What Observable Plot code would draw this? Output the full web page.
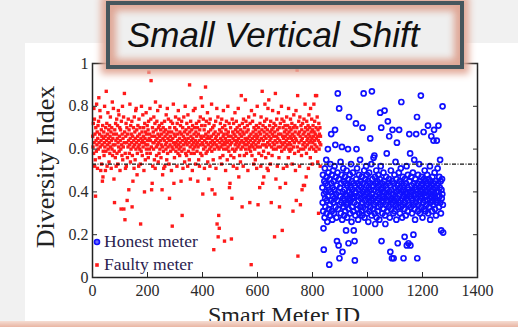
<!DOCTYPE html>
<html><head><meta charset="utf-8">
<script src="https://cdn.jsdelivr.net/npm/d3@7"></script>
<script src="https://cdn.jsdelivr.net/npm/@observablehq/plot@0.6"></script>
<style>
html,body{margin:0;padding:0;}
body{width:518px;height:327px;background:#f1f1f1;position:relative;overflow:hidden;font-family:"Liberation Serif","Times New Roman",serif;}
#panel{position:absolute;left:25px;top:43px;width:493px;height:284px;background:#fff;}
#chart{position:absolute;left:0;top:0;}
#title{position:absolute;left:106px;top:1px;width:350px;height:60px;border:4px solid #46565d;background:#efefef;box-shadow:0 0 7px 5px #e3aa99, inset 0 0 7px 6px #dfa796;}
#titletext{position:absolute;left:127px;top:17px;font-family:"Liberation Sans",Arial,sans-serif;font-style:italic;font-size:35px;line-height:35px;color:#111;white-space:nowrap;}
#ylabel{position:absolute;left:46px;top:167px;transform:translate(-50%,-50%) rotate(-90deg);font-size:26px;color:#222;white-space:nowrap;}
#xlabel{position:absolute;left:284px;top:303px;transform:translateX(-50%);font-size:24px;line-height:24px;color:#222;white-space:nowrap;}
#legend{position:absolute;left:93px;top:230px;font-size:17.5px;color:#2b1d4f;line-height:23px;}
#legend div{display:flex;align-items:center;white-space:nowrap;}
#legend svg{margin-right:3px;}
#bottombar{position:absolute;left:0;top:321px;width:518px;height:6px;background:linear-gradient(#f5ddd3,#e9b5a3);}
</style>
</head><body>
<div id="panel"></div>
<div id="chart"></div>
<div id="ylabel">Diversity Index</div>
<div id="xlabel">Smart Meter ID</div>
<div id="legend">
  <div><svg width="8" height="8"><circle cx="4" cy="4" r="2.5" fill="#6a6aff" stroke="#1010ff" stroke-width="1.6"/></svg>Honest meter</div>
  <div><svg width="8" height="8"><rect x="2.2" y="2.2" width="3.6" height="3.6" fill="#ff1a1a"/></svg>Faulty meter</div>
</div>
<div id="title"></div>
<div id="titletext">Small Vertical Shift</div>
<div id="bottombar"></div>
<script>
const xTicks = [0,200,400,600,800,1000,1200,1400];
const yTicks = [0,0.2,0.4,0.6,0.8,1];
const threshold = 0.53;
const faultyStartId = 1;
const honestStartId = 836;

const faultyIndex = [
0.66,0.61,0.72,0.58,0.79,0.63,0.74,0.52,0.67,0.55,0.38,0.70,0.64,0.59,0.81,0.62,0.68,0.51,0.65,0.71,
0.60,0.73,0.84,0.63,0.56,0.67,0.78,0.61,0.75,0.50,0.64,0.69,0.53,0.66,0.62,0.45,0.71,0.47,0.59,0.65,
0.68,0.57,0.63,0.80,0.61,0.66,0.50,0.70,0.59,0.87,0.64,0.72,0.52,0.67,0.62,0.77,0.60,0.65,0.69,0.54,
0.63,0.71,0.58,0.66,0.75,0.61,0.68,0.51,0.64,0.70,0.60,0.82,0.57,0.65,0.62,0.79,0.67,0.46,0.59,0.35,
0.69,0.62,0.56,0.72,0.64,0.52,0.67,0.74,0.58,0.65,0.71,0.53,0.63,0.78,0.61,0.76,0.59,0.66,0.70,0.50,
0.64,0.69,0.60,0.32,0.73,0.62,0.57,0.67,0.80,0.55,0.65,0.61,0.75,0.32,0.63,0.86,0.68,0.27,0.58,0.51,
0.66,0.72,0.52,0.63,0.70,0.36,0.56,0.67,0.61,0.74,0.64,0.41,0.69,0.58,0.62,0.81,0.65,0.54,0.71,0.60,
0.67,0.63,0.73,0.33,0.57,0.66,0.45,0.61,0.70,0.64,0.51,0.75,0.62,0.68,0.55,0.65,0.78,0.60,0.79,0.63,
0.69,0.48,0.58,0.66,0.71,0.61,0.64,0.52,0.74,0.62,0.67,0.60,0.70,0.53,0.25,0.65,0.59,0.80,0.63,0.68,
0.57,0.64,0.76,0.61,0.66,0.70,0.50,0.63,0.40,0.72,0.65,0.55,0.68,0.62,0.77,0.60,0.67,0.58,0.71,0.64,
0.62,0.69,0.56,0.73,0.96,0.65,0.60,0.67,0.79,0.58,0.64,0.74,0.92,0.61,0.41,0.66,0.44,0.70,0.52,0.63,
0.68,0.60,0.75,0.63,0.55,0.66,0.72,0.51,0.82,0.64,0.69,0.61,0.57,0.73,0.65,0.62,0.78,0.67,0.54,0.70,
0.63,0.58,0.71,0.66,0.60,0.80,0.64,0.69,0.56,0.62,0.67,0.72,0.41,0.61,0.48,0.65,0.70,0.59,0.51,0.68,
0.64,0.73,0.52,0.66,0.62,0.69,0.60,0.76,0.63,0.55,0.67,0.79,0.58,0.65,0.61,0.74,0.68,0.53,0.64,0.37,
0.70,0.62,0.66,0.59,0.73,0.64,0.50,0.68,0.61,0.24,0.72,0.65,0.60,0.81,0.63,0.44,0.67,0.56,0.70,0.62,
0.66,0.75,0.59,0.63,0.69,0.61,0.52,0.72,0.64,0.67,0.58,0.78,0.62,0.74,0.60,0.65,0.57,0.68,0.63,0.71,
0.61,0.45,0.67,0.73,0.59,0.29,0.64,0.70,0.51,0.66,0.62,0.75,0.60,0.68,0.54,0.65,0.80,0.63,0.58,0.69,
0.64,0.57,0.72,0.62,0.67,0.52,0.76,0.65,0.59,0.70,0.63,0.55,0.90,0.68,0.61,0.46,0.73,0.66,0.58,0.64,
0.69,0.62,0.50,0.71,0.65,0.60,0.78,0.63,0.67,0.58,0.70,0.61,0.79,0.64,0.53,0.68,0.62,0.72,0.66,0.59,
0.63,0.70,0.45,0.61,0.67,0.55,0.73,0.64,0.52,0.69,0.62,0.75,0.58,0.66,0.84,0.65,0.71,0.57,0.63,0.80,
0.39,0.62,0.74,0.60,0.66,0.69,0.51,0.64,0.71,0.61,0.89,0.67,0.58,0.73,0.63,0.65,0.59,0.77,0.54,0.66,
0.62,0.68,0.46,0.72,0.60,0.65,0.52,0.74,0.63,0.69,0.61,0.66,0.81,0.59,0.41,0.64,0.70,0.62,0.55,0.67,
0.13,0.71,0.63,0.60,0.39,0.68,0.65,0.73,0.51,0.62,0.66,0.79,0.25,0.64,0.61,0.75,0.19,0.67,0.29,0.60,
0.23,0.69,0.63,0.56,0.72,0.65,0.61,0.68,0.53,0.74,0.64,0.62,0.70,0.57,0.66,0.78,0.60,0.67,0.63,0.17,
0.71,0.62,0.65,0.50,0.69,0.64,0.73,0.60,0.67,0.55,0.63,0.80,0.61,0.68,0.66,0.59,0.72,0.42,0.64,0.44,
0.62,0.70,0.57,0.66,0.18,0.63,0.37,0.74,0.60,0.68,0.65,0.52,0.72,0.56,0.67,0.64,0.59,0.77,0.62,0.69,
0.66,0.60,0.73,0.63,0.51,0.70,0.64,0.68,0.61,0.79,0.65,0.47,0.62,0.71,0.57,0.67,0.63,0.54,0.69,0.60,
0.85,0.66,0.64,0.33,0.72,0.61,0.68,0.52,0.74,0.63,0.67,0.57,0.70,0.62,0.65,0.83,0.60,0.73,0.64,0.58,
0.68,0.62,0.71,0.65,0.50,0.69,0.63,0.75,0.60,0.66,0.61,0.35,0.72,0.64,0.59,0.67,0.06,0.78,0.62,0.57,
0.65,0.73,0.61,0.68,0.63,0.53,0.70,0.66,0.76,0.60,0.64,0.55,0.69,0.62,0.67,0.71,0.51,0.65,0.80,0.61,
0.66,0.34,0.63,0.70,0.58,0.68,0.64,0.42,0.72,0.61,0.67,0.52,0.75,0.65,0.57,0.69,0.87,0.62,0.44,0.71,
0.64,0.59,0.47,0.68,0.66,0.73,0.81,0.62,0.70,0.56,0.65,0.61,0.74,0.67,0.51,0.69,0.63,0.79,0.50,0.58,
0.83,0.66,0.62,0.71,0.64,0.68,0.53,0.73,0.65,0.35,0.61,0.69,0.57,0.67,0.78,0.63,0.70,0.60,0.66,0.72,
0.62,0.19,0.68,0.64,0.86,0.71,0.46,0.60,0.66,0.74,0.63,0.52,0.69,0.65,0.61,0.77,0.67,0.56,0.70,0.33,
0.64,0.42,0.72,0.61,0.67,0.63,0.80,0.59,0.74,0.22,0.66,0.62,0.70,0.51,0.65,0.73,0.60,0.68,0.63,0.71,
0.66,0.44,0.61,0.69,0.64,0.75,0.52,0.67,0.62,0.71,0.65,0.56,0.79,0.60,0.68,0.63,0.70,0.59,0.66,0.74,
0.62,0.69,0.65,0.60,0.72,0.53,0.67,0.64,0.31,0.70,0.61,0.76,0.66,0.63,0.58,0.71,0.68,0.50,0.65,0.78,
0.36,0.64,0.70,0.97,0.61,0.85,0.10,0.67,0.59,0.73,0.63,0.68,0.52,0.75,0.66,0.34,0.60,0.71,0.64,0.57,
0.69,0.41,0.65,0.72,0.62,0.67,0.43,0.60,0.74,0.63,0.43,0.68,0.81,0.61,0.70,0.66,0.47,0.58,0.73,0.64,
0.62,0.69,0.65,0.71,0.51,0.67,0.76,0.63,0.60,0.70,0.66,0.56,0.79,0.64,0.68,0.61,0.74,0.65,0.53,0.69,
0.63,0.71,0.66,0.60,0.81,0.68,0.64,0.73,0.62,0.67,0.85,0.59,0.70,0.65,0.85,0.61,0.75,0.66,0.54,0.69,
0.64,0.30,0.72,0.60,0.67,0.63,0.70,0.52,0.66,0.62
];

const honestIndex = [
0.42,0.35,0.48,0.31,0.23,0.13,0.39,0.45,0.28,0.51,0.37,0.33,0.44,0.40,0.55,0.30,0.47,0.36,0.26,0.43,
0.60,0.38,0.49,0.32,0.41,0.06,0.46,0.34,0.29,0.53,0.40,0.36,0.67,0.44,0.31,0.48,0.27,0.42,0.38,0.50,
0.35,0.45,0.30,0.41,0.52,0.37,0.69,0.62,0.33,0.47,0.39,0.28,0.43,0.17,0.36,0.49,0.86,0.32,0.40,0.15,
0.46,0.79,0.09,0.34,0.42,0.38,0.54,0.30,0.44,0.35,0.48,0.61,0.27,0.12,0.40,0.37,0.51,0.33,0.45,0.29,
0.41,0.36,0.47,0.31,0.39,0.44,0.22,0.34,0.50,0.38,0.28,0.43,0.35,0.60,0.46,0.16,0.32,0.75,0.40,0.37,
0.48,0.30,0.42,0.36,0.53,0.39,0.26,0.45,0.33,0.41,0.37,0.49,0.31,0.44,0.22,0.38,0.35,0.17,0.08,0.43,
0.29,0.40,0.72,0.46,0.60,0.34,0.51,0.38,0.32,0.44,0.27,0.41,0.36,0.48,0.30,0.43,0.39,0.55,0.33,0.45,
0.37,0.42,0.31,0.47,0.29,0.35,0.70,0.40,0.44,0.33,0.86,0.38,0.50,0.28,0.41,0.36,0.46,0.32,0.39,0.52,
0.43,0.34,0.48,0.30,0.40,0.37,0.45,0.26,0.42,0.35,0.49,0.31,0.38,0.44,0.65,0.33,0.41,0.36,0.53,0.29,
0.87,0.39,0.46,0.32,0.43,0.37,0.56,0.34,0.41,0.57,0.30,0.47,0.25,0.38,0.44,0.35,0.50,0.28,0.42,0.36,
0.45,0.31,0.40,0.48,0.33,0.37,0.43,0.27,0.39,0.46,0.77,0.34,0.52,0.41,0.70,0.17,0.36,0.44,0.30,0.38,
0.42,0.35,0.49,0.32,0.40,0.45,0.78,0.37,0.29,0.25,0.43,0.34,0.47,0.39,0.58,0.31,0.41,0.36,0.73,0.44,
0.38,0.33,0.46,0.66,0.40,0.28,0.43,0.12,0.36,0.50,0.32,0.41,0.37,0.09,0.45,0.69,0.35,0.39,0.30,0.09,
0.44,0.36,0.48,0.31,0.42,0.38,0.54,0.34,0.40,0.27,0.46,0.63,0.37,0.43,0.16,0.33,0.41,0.35,0.49,0.69,
0.39,0.45,0.30,0.42,0.36,0.51,0.33,0.82,0.40,0.44,0.28,0.37,0.47,0.34,0.41,0.09,0.38,0.43,0.32,0.19,
0.46,0.35,0.40,0.29,0.44,0.37,0.52,0.15,0.39,0.42,0.31,0.48,0.36,0.16,0.41,0.34,0.67,0.45,0.38,0.58,
0.15,0.40,0.33,0.47,0.37,0.43,0.30,0.41,0.36,0.49,0.34,0.20,0.44,0.38,0.55,0.32,0.42,0.27,0.46,0.39,
0.35,0.67,0.41,0.37,0.75,0.09,0.44,0.31,0.48,0.39,0.34,0.42,0.53,0.36,0.45,0.30,0.40,0.38,0.85,0.43,
0.33,0.47,0.37,0.41,0.28,0.44,0.39,0.35,0.68,0.46,0.32,0.42,0.50,0.36,0.40,0.31,0.45,0.38,0.43,0.34,
0.41,0.48,0.36,0.44,0.71,0.30,0.39,0.46,0.33,0.42,0.37,0.52,0.27,0.45,0.35,0.40,0.66,0.38,0.43,0.31,
0.47,0.36,0.41,0.34,0.64,0.44,0.69,0.39,0.49,0.32,0.42,0.37,0.45,0.29,0.40,0.35,0.64,0.43,0.38,0.51,
0.36,0.44,0.71,0.40,0.33,0.47,0.38,0.42,0.55,0.35,0.45,0.30,0.22,0.41,0.37,0.46,0.39,0.80,0.34,0.21
];

const faulty = faultyIndex.map((v, i) => ({id: faultyStartId + i, v}));
const honest = honestIndex.map((v, i) => ({id: honestStartId + i, v}));

const chart = Plot.plot({
  width: 518, height: 327,
  marginTop: 63, marginRight: 41, marginBottom: 50, marginLeft: 92,
  style: {background: "transparent", fontFamily: "Liberation Serif, serif", fontSize: "16px", color: "#2a2a2a"},
  x: {domain: [0, 1400]},
  y: {domain: [0, 1]},
  marks: [
    Plot.dot(faulty, {x: "id", y: "v", symbol: "square", r: 1.9, fill: "#ff1a1a"}),
    Plot.dot(honest, {x: "id", y: "v", r: 2.5, stroke: "#1010ff", strokeWidth: 1.7, fill: "none"}),
    Plot.ruleY([threshold], {stroke: "#111", strokeWidth: 1.4, strokeDasharray: "4,1.5,1,1.5"}),
    Plot.frame({stroke: "#222", strokeWidth: 1.5}),
    Plot.axisX({anchor: "bottom", ticks: xTicks, tickSize: -5, tickPadding: 12, tickFormat: d => String(d), label: null}),
    Plot.axisX({anchor: "top", ticks: xTicks, tickSize: -5, tickFormat: () => "", label: null}),
    Plot.axisY({anchor: "left", ticks: yTicks, tickSize: -5, tickPadding: 9, tickFormat: d3.format("~g"), label: null}),
    Plot.axisY({anchor: "right", ticks: yTicks, tickSize: -5, tickFormat: () => "", label: null})
  ]
});
document.getElementById("chart").appendChild(chart);
</script>
</body></html>
